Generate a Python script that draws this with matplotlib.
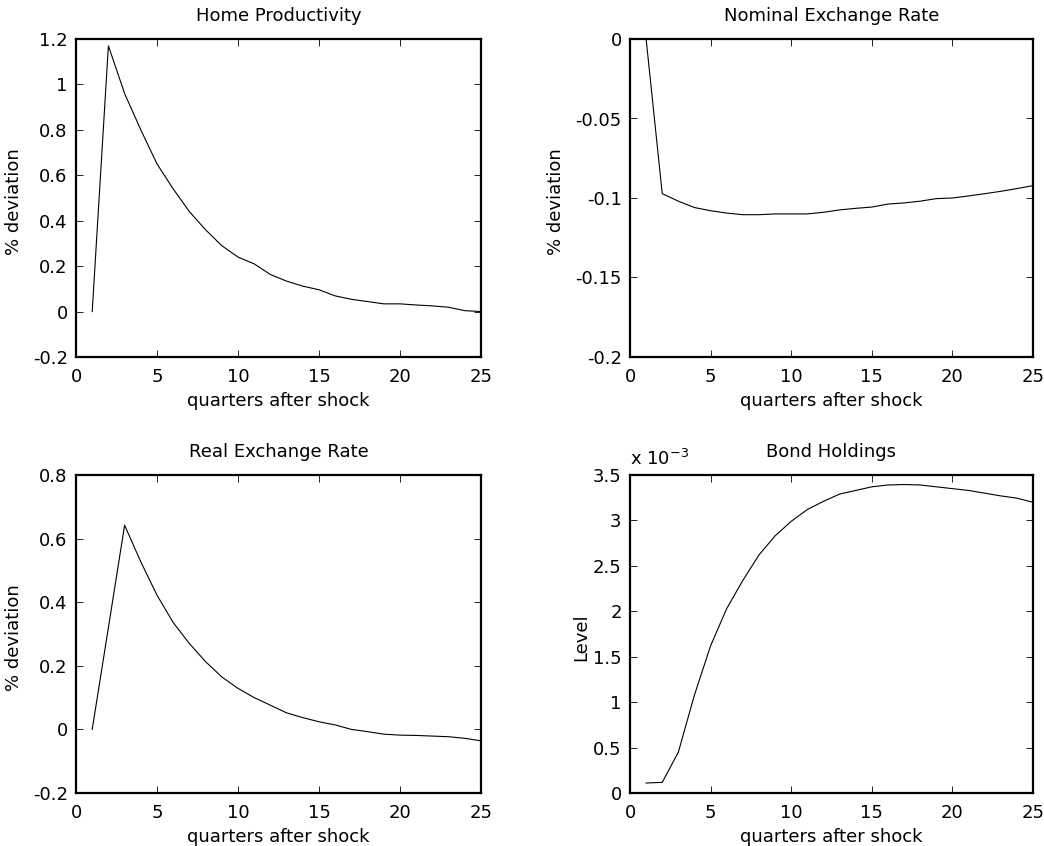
import numpy as np
import matplotlib
matplotlib.use('Agg')
import matplotlib.pyplot as plt
from matplotlib.ticker import FuncFormatter

plt.rcParams['font.family'] = ['DejaVu Sans']
plt.rcParams['font.size'] = 13
plt.rcParams['mathtext.fontset'] = 'dejavusans'

quarters = list(range(1, 26))

home_prod = [0.0, 1.17, 0.96, 0.80, 0.65, 0.54, 0.44, 0.36, 0.29, 0.24,
             0.21, 0.163, 0.134, 0.112, 0.096, 0.069, 0.054, 0.044, 0.034, 0.034,
             0.029, 0.025, 0.019, 0.004, 0.0]

nominal_er = [0.0, -0.0973, -0.102, -0.106, -0.108, -0.1095, -0.1105, -0.1105, -0.110, -0.110,
              -0.110, -0.109, -0.1075, -0.1065, -0.1057, -0.1038, -0.1031, -0.102, -0.1004, -0.100,
              -0.0987, -0.0973, -0.0958, -0.0941, -0.0922]

real_er = [0.0, 0.32, 0.642, 0.527, 0.422, 0.336, 0.27, 0.213, 0.165, 0.129,
           0.10, 0.076, 0.052, 0.037, 0.024, 0.014, 0.0, -0.007, -0.015, -0.018,
           -0.019, -0.021, -0.023, -0.028, -0.036]

bonds = [0.11e-3, 0.117e-3, 0.45e-3, 1.08e-3, 1.62e-3, 2.03e-3, 2.34e-3, 2.62e-3, 2.83e-3, 2.99e-3,
         3.12e-3, 3.21e-3, 3.29e-3, 3.33e-3, 3.37e-3, 3.39e-3, 3.395e-3, 3.39e-3, 3.37e-3, 3.35e-3,
         3.33e-3, 3.30e-3, 3.27e-3, 3.245e-3, 3.20e-3]

fig = plt.figure(figsize=(10.44, 8.46), dpi=100)

W, H = 1044, 846
boxes = [(76, 39, 481, 357), (630, 39, 1033, 357),
         (76, 475, 481, 793), (630, 475, 1033, 793)]


def make_ax(b, ylab, ylab_x):
    x0, y0, x1, y1 = b
    ax = fig.add_axes([x0 / W, 1 - y1 / H, (x1 - x0) / W, (y1 - y0) / H])
    ax.tick_params(direction='in', top=True, right=True, length=5, width=0.6,
                   labelsize=13)
    ax.tick_params(axis='x', pad=8)
    ax.tick_params(axis='y', pad=6)
    for s in ax.spines.values():
        s.set_linewidth(1.6)
    ax.set_xlim(0, 25)
    ax.set_xticks([0, 5, 10, 15, 20, 25])
    ax.set_xlabel('quarters after shock', labelpad=4)
    ax.set_ylabel(ylab)
    # right edge of the rotated label sits at ylab_x (pixels)
    ax.yaxis.set_label_coords((ylab_x - x0) / (x1 - x0), 0.49)
    return ax


ax = make_ax(boxes[0], '% deviation', 23)
ax.plot(quarters, home_prod, color='black', lw=0.8)
ax.set_ylim(-0.2, 1.2)
ax.set_yticks([-0.2, 0, 0.2, 0.4, 0.6, 0.8, 1, 1.2])
ax.set_yticklabels(['-0.2', '0', '0.2', '0.4', '0.6', '0.8', '1', '1.2'])
ax.set_title('Home Productivity', fontsize=13, pad=13)

ax = make_ax(boxes[1], '% deviation', 565)
ax.plot(quarters, nominal_er, color='black', lw=0.8)
ax.set_ylim(-0.2, 0)
ax.set_yticks([-0.2, -0.15, -0.1, -0.05, 0])
ax.set_yticklabels(['-0.2', '-0.15', '-0.1', '-0.05', '0'])
ax.set_title('Nominal Exchange Rate', fontsize=13, pad=13)

ax = make_ax(boxes[2], '% deviation', 23)
ax.plot(quarters, real_er, color='black', lw=0.8)
ax.set_ylim(-0.2, 0.8)
ax.set_yticks([-0.2, 0, 0.2, 0.4, 0.6, 0.8])
ax.set_yticklabels(['-0.2', '0', '0.2', '0.4', '0.6', '0.8'])
ax.set_title('Real Exchange Rate', fontsize=13, pad=13)

ax = make_ax(boxes[3], 'Level', 590)
ax.plot(quarters, bonds, color='black', lw=0.8)
ax.set_ylim(0, 3.5e-3)
ax.set_yticks(np.arange(0, 3.6e-3, 0.5e-3))
ax.yaxis.set_major_formatter(FuncFormatter(lambda v, p: f'{v * 1e3:g}'))
ax.set_title('Bond Holdings', fontsize=13, pad=13)
ax.text(0.0, 1.02, r'x 10$^{-3}$', transform=ax.transAxes, fontsize=13,
        ha='left', va='bottom')

fig.savefig('out.png', dpi=100)
